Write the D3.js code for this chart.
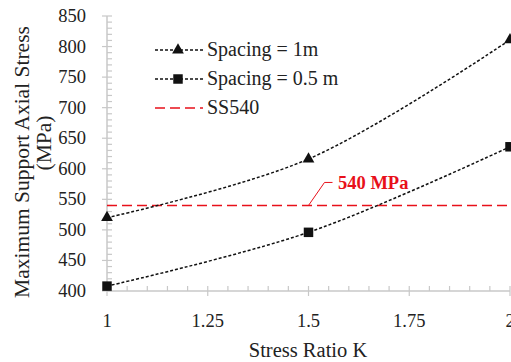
<!DOCTYPE html>
<html lang="en">
<head>
<meta charset="UTF-8">
<script src="https://d3js.org/d3.v7.min.js"></script>
<style>
  body { margin: 0; background: #fff; }
</style>
</head>
<body>
<div id="chart"></div>
<script>
// data
const ratioK = [1, 1.5, 2];
const spacing1m = [520, 616, 811];
const spacing05m = [408, 496, 636];
const ss540 = 540;
const seriesNames = ["Spacing = 1m", "Spacing = 0.5 m", "SS540"];
const xTicks = [1, 1.25, 1.5, 1.75, 2];
const yTicks = [400, 450, 500, 550, 600, 650, 700, 750, 800, 850];

const W = 511, H = 362;
const font = "Liberation Serif";
const svg = d3.select("#chart").append("svg")
    .attr("width", W).attr("height", H);

const x = d3.scaleLinear().domain([1, 2]).range([107, 510]);
const y = d3.scaleLinear().domain([400, 850]).range([291, 16]);
const axisCol = "#c8c8c8";

// y axis
svg.append("line").attr("x1", x(1)).attr("x2", x(1))
    .attr("y1", y(400)).attr("y2", y(850))
    .attr("stroke", axisCol).attr("stroke-width", 1.5);
d3.range(400, 851, 10).forEach(function(v) {
  const major = v % 50 === 0;
  svg.append("line")
    .attr("x1", major ? x(1) - 5 : x(1)).attr("x2", x(1) + 5)
    .attr("y1", y(v)).attr("y2", y(v))
    .attr("stroke", axisCol).attr("stroke-width", 1.2);
});
svg.selectAll(".ylab").data(yTicks).enter().append("text")
    .attr("x", 86).attr("y", d => y(d) + 6)
    .attr("text-anchor", "end").attr("font-family", font)
    .attr("font-size", 18.5).attr("fill", "#222")
    .text(d => d);

// x axis
svg.append("line").attr("x1", x(1)).attr("x2", x(2))
    .attr("y1", y(400)).attr("y2", y(400))
    .attr("stroke", axisCol).attr("stroke-width", 1.5);
d3.range(0, 21).forEach(function(i) {
  const v = 1 + i * 0.05;
  const major = i % 5 === 0;
  svg.append("line")
    .attr("x1", x(v)).attr("x2", x(v))
    .attr("y1", y(400) - 5).attr("y2", major ? y(400) + 5 : y(400))
    .attr("stroke", axisCol).attr("stroke-width", 1.2);
});
svg.selectAll(".xlab").data(xTicks).enter().append("text")
    .attr("x", d => x(d)).attr("y", 327)
    .attr("text-anchor", "middle").attr("font-family", font)
    .attr("font-size", 18.5).attr("fill", "#222")
    .text(d => d);

// axis titles
svg.append("text").attr("transform", "translate(29,162) rotate(-90)")
    .attr("text-anchor", "middle").attr("font-family", font)
    .attr("font-size", 21.5).attr("fill", "#222")
    .text("Maximum Support Axial Stress");
svg.append("text").attr("transform", "translate(51,143) rotate(-90)")
    .attr("text-anchor", "middle").attr("font-family", font)
    .attr("font-size", 21.5).attr("fill", "#222")
    .text("(MPa)");
svg.append("text").attr("x", 308).attr("y", 357)
    .attr("text-anchor", "middle").attr("font-family", font)
    .attr("font-size", 20.5).attr("fill", "#222")
    .text("Stress Ratio K");

// SS540 reference line
svg.append("line").attr("x1", x(1)).attr("x2", x(2))
    .attr("y1", y(ss540)).attr("y2", y(ss540))
    .attr("stroke", "#e8101a").attr("stroke-width", 1.6)
    .attr("stroke-dasharray", "10,5");

// series
const line = d3.line()
    .x(d => x(d[0])).y(d => y(d[1]))
    .curve(d3.curveCatmullRom.alpha(0.5));
const s1 = ratioK.map((k, i) => [k, spacing1m[i]]);
const s2 = ratioK.map((k, i) => [k, spacing05m[i]]);
[s1, s2].forEach(function(s) {
  svg.append("path").datum(s).attr("d", line)
    .attr("fill", "none").attr("stroke", "#111")
    .attr("stroke-width", 1.5).attr("stroke-dasharray", "3,2");
});
const tri = d3.symbol().type(d3.symbolTriangle).size(60);
const sq = d3.symbol().type(d3.symbolSquare).size(90);
svg.selectAll(".tri").data(s1).enter().append("path")
    .attr("d", tri).attr("transform", d => `translate(${x(d[0])},${y(d[1])})`)
    .attr("fill", "#111");
svg.selectAll(".sq").data(s2).enter().append("path")
    .attr("d", sq).attr("transform", d => `translate(${x(d[0])},${y(d[1])})`)
    .attr("fill", "#111");

// 540 MPa annotation
svg.append("polyline")
    .attr("points", `${x(1.5)},${y(ss540)} ${x(1.5) + 16},${y(ss540) - 23} ${x(1.5) + 24},${y(ss540) - 23}`)
    .attr("fill", "none").attr("stroke", "#e8101a").attr("stroke-width", 1);
svg.append("text").attr("x", 338).attr("y", 189)
    .attr("font-family", font).attr("font-size", 18.5)
    .attr("font-weight", "bold").attr("fill", "#e8101a")
    .text("540 MPa");

// legend
const legY = [50, 79, 108];
seriesNames.forEach(function(name, i) {
  const g = svg.append("g");
  g.append("line").attr("x1", 155).attr("x2", 203)
    .attr("y1", legY[i]).attr("y2", legY[i])
    .attr("stroke", i === 2 ? "#e8101a" : "#111")
    .attr("stroke-width", 1.5)
    .attr("stroke-dasharray", i === 2 ? "10,5" : "3,2");
  if (i < 2) {
    g.append("path").attr("d", i === 0 ? tri : sq)
      .attr("transform", `translate(178,${legY[i]})`).attr("fill", "#111");
  }
  g.append("text").attr("x", 207).attr("y", legY[i] + 6)
    .attr("font-family", font).attr("font-size", 20)
    .attr("fill", "#222").text(name);
});
</script>
</body>
</html>
